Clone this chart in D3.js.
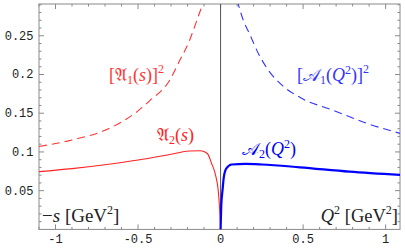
<!DOCTYPE html>
<html>
<head>
<meta charset="utf-8">
<script src="https://cdn.jsdelivr.net/npm/d3@7"></script>
<style>
  body { margin: 0; background: #fff; }
  svg { display: block; }
  .frame { fill: none; stroke: #8a8a8a; stroke-width: 1; }
  .tick line { stroke: #8a8a8a; }
  .ticklab { font-family: "Liberation Mono", "DejaVu Sans Mono", monospace; font-size: 12px; fill: #222; }
  .math { font-family: "Liberation Serif", "DejaVu Serif", serif; }
</style>
</head>
<body>
<script>
(function(){

// values (x = -s or Q^2 in GeV^2)
var redDashX = [-1.1, -0.9, -0.7, -0.5, -0.43, -0.31, -0.25, -0.19, -0.14, -0.1];
var redDashY = [0.107, 0.1155, 0.128, 0.153, 0.166, 0.192, 0.217, 0.243, 0.272, 0.296];

var redSolidX = [-1.1, -0.9, -0.7, -0.5, -0.3, -0.19, -0.12, -0.08, -0.055, -0.035, -0.024, -0.015, -0.008, 0];
var redSolidY = [0.0746, 0.0785, 0.0835, 0.0895, 0.097, 0.1012, 0.1015, 0.098, 0.0855, 0.074, 0.064, 0.052, 0.034, 0];

var blueSolidX = [0, 0.004, 0.012, 0.02, 0.036, 0.067, 0.15, 0.25, 0.48, 0.78, 1.087];
var blueSolidY = [0, 0.03, 0.051, 0.068, 0.079, 0.0838, 0.0845, 0.0838, 0.0802, 0.0746, 0.0703];

var blueDashX = [0.1, 0.137, 0.178, 0.228, 0.288, 0.37, 0.49, 0.68, 0.885, 1.087];
var blueDashY = [0.296, 0.2705, 0.2512, 0.2275, 0.206, 0.1866, 0.1694, 0.154, 0.137, 0.124];

var xTicks = [-1, -0.5, 0, 0.5, 1];
var xTickLabels = ["-1", "-0.5", "0", "0.5", "1"];
var yTicks = [0.05, 0.1, 0.15, 0.2, 0.25];
var yTickLabels = ["0.05", "0.1", "0.15", "0.2", "0.25"];

var width = 405, height = 251;
var left = 39, top = 4, right = 400, bottom = 229.4;

var svg = d3.select("body").append("svg")
    .attr("width", width)
    .attr("height", height);

var x = d3.scaleLinear().domain([-1.1, 1.087]).range([left, right]);
var y = d3.scaleLinear().domain([0, 0.291]).range([bottom, top]);

svg.append("clipPath").attr("id", "plotclip")
    .append("rect")
    .attr("x", left).attr("y", top)
    .attr("width", right - left).attr("height", bottom - top);

//minor and major ticks on all four sides
var xMinor = d3.range(-11, 11).map(function(d){ return d / 10; });
var yMinor = d3.range(1, 30).map(function(d){ return d / 100; });

function tickLen(v, major){
    return major.some(function(m){ return Math.abs(m - v) < 1e-9; }) ? 5 : 2.5;
}

var ticks = svg.append("g").attr("class", "tick");
xMinor.forEach(function(v){
    var L = tickLen(v, xTicks);
    ticks.append("line").attr("x1", x(v)).attr("x2", x(v)).attr("y1", bottom).attr("y2", bottom - L);
    ticks.append("line").attr("x1", x(v)).attr("x2", x(v)).attr("y1", top).attr("y2", top + L);
});
yMinor.forEach(function(v){
    var L = tickLen(v, yTicks);
    ticks.append("line").attr("x1", left).attr("x2", left + L).attr("y1", y(v)).attr("y2", y(v));
    ticks.append("line").attr("x1", right).attr("x2", right - L).attr("y1", y(v)).attr("y2", y(v));
});

svg.append("rect").attr("class", "frame")
    .attr("x", left).attr("y", top)
    .attr("width", right - left).attr("height", bottom - top);

//tick labels
svg.selectAll(".xlab").data(xTicks).enter().append("text")
    .attr("class", "ticklab")
    .attr("x", function(d){ return x(d); })
    .attr("y", 243)
    .attr("text-anchor", "middle")
    .text(function(d, i){ return xTickLabels[i]; });

svg.selectAll(".ylab").data(yTicks).enter().append("text")
    .attr("class", "ticklab")
    .attr("x", 33.5)
    .attr("y", function(d){ return y(d) + 4; })
    .attr("text-anchor", "end")
    .text(function(d, i){ return yTickLabels[i]; });

//vertical line at zero
svg.append("line")
    .attr("x1", x(0)).attr("x2", x(0))
    .attr("y1", top).attr("y2", bottom)
    .attr("stroke", "#555").attr("stroke-width", 1);

var line = d3.line()
    .x(function(d){ return x(d[0]); })
    .y(function(d){ return y(d[1]); })
    .curve(d3.curveMonotoneX);

var plot = svg.append("g").attr("clip-path", "url(#plotclip)");

function draw(xs, ys, color, w, dash){
    plot.append("path")
        .datum(d3.zip(xs, ys))
        .attr("d", line)
        .attr("fill", "none")
        .attr("stroke", color)
        .attr("stroke-width", w)
        .attr("stroke-dasharray", dash);
}
draw(redDashX, redDashY, "#ff3333", 1.1, "8,5");
draw(blueDashX, blueDashY, "#3333ff", 1.1, "8,5");
draw(redSolidX, redSolidY, "#ff2222", 1.1, null);
draw(blueSolidX, blueSolidY, "#0000ff", 2.2, null);

//labels
function label(xp, yp, color, size, parts, anchor){
    var t = svg.append("text").attr("class", "math")
        .attr("x", xp).attr("y", yp)
        .attr("fill", color)
        .attr("font-size", size)
        .attr("text-anchor", anchor || "start");
    parts.forEach(function(p){
        var s = t.append("tspan").text(p.t);
        if (p.i) s.attr("font-style", "italic");
        if (p.dy) s.attr("dy", p.dy);
        if (p.fs) s.attr("font-size", p.fs);
    });
}

label(109, 81, "#ff3333", 18, [
    {t: "[𝔄"}, {t: "1", fs: 12, dy: 3}, {t: "(", dy: -3}, {t: "s", i: true}, {t: ")]"}, {t: "2", fs: 12, dy: -8}
]);
label(297, 81, "#3333ff", 18, [
    {t: "[𝒜"}, {t: "1", fs: 12, dy: 3}, {t: "(", dy: -3}, {t: "Q", i: true}, {t: "2", fs: 12, dy: -7}, {t: ")]", dy: 7}, {t: "2", fs: 12, dy: -8}
]);
label(157, 141, "#ff2222", 18, [
    {t: "𝔄"}, {t: "2", fs: 12, dy: 3}, {t: "(", dy: -3}, {t: "s", i: true}, {t: ")"}
]);
label(242, 155, "#0000ff", 18, [
    {t: "𝒜"}, {t: "2", fs: 12, dy: 3}, {t: "(", dy: -3}, {t: "Q", i: true}, {t: "2", fs: 12, dy: -7}, {t: ")", dy: 7}
]);
label(42, 222, "#222", 19, [
    {t: "−"}, {t: "s", i: true}, {t: " [GeV"}, {t: "2", fs: 12, dy: -8}, {t: "]", dy: 8}
]);
label(398, 222, "#222", 18.5, [
    {t: "Q", i: true}, {t: "2", fs: 12, dy: -8}, {t: " [GeV", dy: 8}, {t: "2", fs: 12, dy: -8}, {t: "]", dy: 8}
], "end");

})();
</script>
</body>
</html>
